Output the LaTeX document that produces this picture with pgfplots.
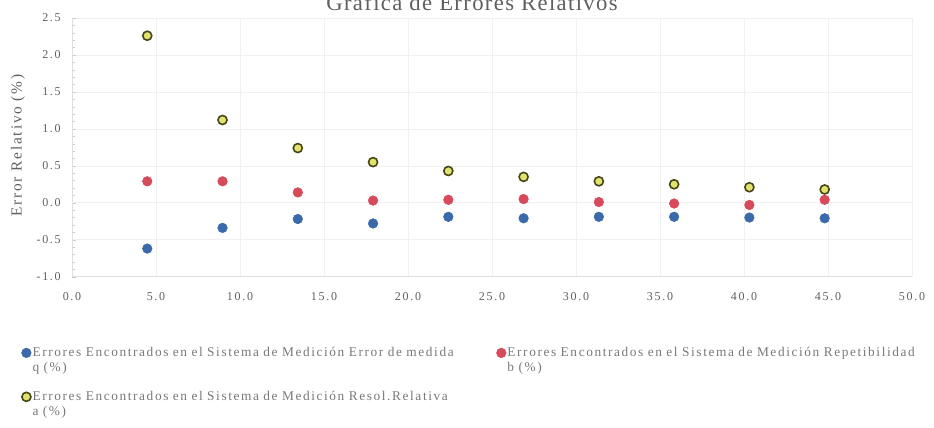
\documentclass[border=0pt]{standalone}
\usepackage{pgfplots}
\pgfplotsset{compat=1.18}
\usepackage{fontspec}
\setmainfont{Liberation Serif}
\newfontfamily\tickfont[LetterSpace=14]{Liberation Serif}
\newfontfamily\legfont[LetterSpace=12]{Liberation Serif}
\newfontfamily\labfont[LetterSpace=12]{Liberation Serif}
\newfontfamily\titfont[LetterSpace=6]{Liberation Serif}

\definecolor{serq}{RGB}{58,106,170}
\definecolor{serb}{RGB}{214,74,90}
\definecolor{sera}{RGB}{226,226,110}
\definecolor{seraedge}{RGB}{70,70,25}
\definecolor{txt}{RGB}{95,95,95}
\definecolor{legtxt}{RGB}{120,120,120}

% valores
\pgfplotstableread{
x     q      b      a
4.48  -0.62  0.29   2.26
8.96  -0.34  0.29   1.12
13.44 -0.22  0.14   0.74
17.92 -0.28  0.03   0.55
22.40 -0.19  0.04   0.43
26.88 -0.21  0.05   0.35
31.36 -0.19  0.01   0.29
35.84 -0.19  -0.01  0.25
40.32 -0.20  -0.03  0.21
44.80 -0.21  0.04   0.18
}\datos

\begin{document}
\begin{tikzpicture}
\begin{axis}[
    scale only axis,
    width=630pt,
    height=194pt,
    xmin=0, xmax=50,
    ymin=-1, ymax=2.5,
    xtick={0,5,...,50},
    ytick={-1,-0.5,...,2.5},
    minor y tick num=4,
    /pgf/number format/assume math mode=true,
    ticklabel style={font=\tickfont\fontsize{9}{10}\selectfont, text=txt},
    xticklabel style={anchor=center, yshift=-15pt, /pgf/number format/.cd, fixed, fixed zerofill, precision=1},
    yticklabel style={anchor=east, xshift=-5pt, /pgf/number format/.cd, fixed, fixed zerofill, precision=1},
    grid=major,
    major grid style={gray!12},
    axis lines*=left,
    axis line style={gray!25},
    tick style={gray!40},
    major tick length=3pt,
    minor tick length=2pt,
    xtick style={draw=none},
    extra y ticks={0},
    extra y tick labels={},
    extra y tick style={grid style={gray!45, line width=0.8pt}, tick style={draw=none}},
    legend columns=2,
    legend cell align=left,
    legend style={
        draw=none, fill=none,
        at={(-41pt,-49.75pt)}, anchor=north west,
        font=\legfont\fontsize{10}{11.25}\selectfont,
        text=legtxt,
        nodes={text width=335pt, align=left, inner sep=1pt},
        /tikz/every even column/.append style={column sep=12pt},
        row sep=22.5pt,
    },
    clip=false,
]
\addplot[only marks, mark=*, mark size=3.6pt, mark options={fill=serq, draw=serq}]
    table[x=x, y=q] {\datos};
\addlegendentry{Errores Encontrados en el Sistema de Medición Error de medida\\ q (\%)}
\addplot[only marks, mark=*, mark size=3.6pt, mark options={fill=serb, draw=serb}]
    table[x=x, y=b] {\datos};
\addlegendentry{Errores Encontrados en el Sistema de Medición Repetibilidad\\ b (\%)}
\addplot[only marks, mark=*, mark size=3.4pt, mark options={fill=sera, draw=seraedge, line width=1.2pt}]
    table[x=x, y=a] {\datos};
\addlegendentry{Errores Encontrados en el Sistema de Medición Resol.Relativa\\ a (\%)}
\end{axis}
% el eje queda con su esquina inferior izquierda en (0,0)
\node[anchor=base, font=\titfont\fontsize{17}{19}\selectfont, text=txt] at (300pt,199.5pt) {Gráfica de Errores Relativos};
\node[rotate=90, font=\labfont\fontsize{11.5}{13}\selectfont, text=txt] at (-40.5pt,98.25pt) {Error Relativo (\%)};
\pgfresetboundingbox
\useasboundingbox (-54pt,-113.25pt) rectangle (646.5pt,207.5pt);
\end{tikzpicture}
\end{document}
